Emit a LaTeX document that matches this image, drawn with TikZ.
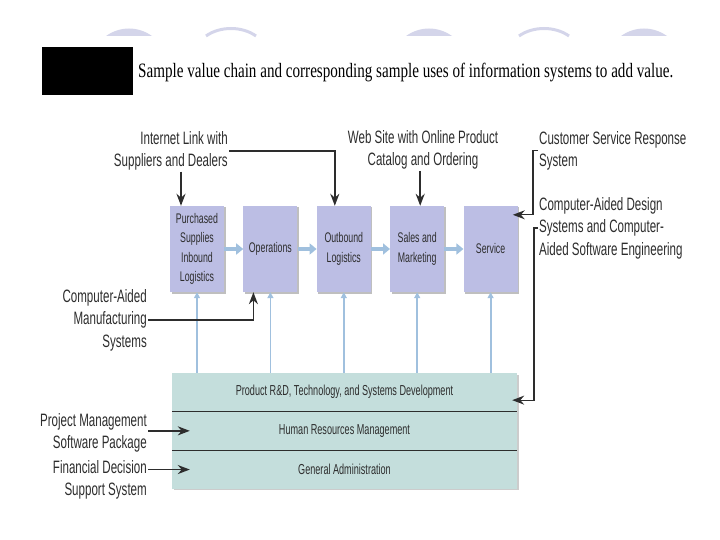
\documentclass[tikz,border=0pt]{standalone}
\usepackage{fontspec}
\usepackage{xcolor}
\usepackage{tikz}
\usetikzlibrary{arrows.meta,positioning,calc,shadows}

\newfontfamily\notefont[FakeStretch=0.645]{Liberation Sans}
\newfontfamily\boxfont[FakeStretch=0.63]{Liberation Sans}
\newfontfamily\captionfont[FakeStretch=0.74]{Liberation Serif}

\definecolor{stagefill}{RGB}{188,190,228}
\definecolor{supportfill}{RGB}{196,222,220}
\definecolor{flowblue}{RGB}{160,192,222}
\definecolor{linkgray}{RGB}{45,45,45}
\definecolor{decofill}{RGB}{212,213,234}

\begin{document}
\begin{tikzpicture}[x=1bp, y=1bp,
  stage/.style={rectangle, fill=stagefill, minimum width=54bp, minimum height=86bp, inner sep=0pt, align=center, text=linkgray, font=\boxfont\fontsize{14}{19.5}\selectfont, drop shadow={shadow xshift=1.5bp, shadow yshift=-1.5bp, fill=black, opacity=0.25}},
  support/.style={rectangle, fill=supportfill, minimum width=345bp, minimum height=38.3bp, inner sep=0pt, align=center, text=linkgray, font=\boxfont\fontsize{14.5}{16}\selectfont, drop shadow={shadow xshift=1.5bp, shadow yshift=-1.5bp, fill=black, opacity=0.2}},
  sysnote/.style={inner sep=1bp, font=\notefont\fontsize{18}{22.5}\selectfont, text=linkgray},
  flow/.style={-{Triangle[length=7bp, width=11bp]}, line width=3.5bp, flowblue},
  feed/.style={-{Triangle[length=6bp, width=6bp]}, line width=1.8bp, flowblue},
  infoarrow/.style={-{Stealth[length=12bp, width=9bp]}, line width=1.8bp, linkgray},
  node distance=19bp
]
\useasboundingbox (0,0) rectangle (720,-540);

\foreach \x in {106,406,621}
  \fill[decofill] (\x,-36) .. controls (\x+14,-26) and (\x+32,-26) .. (\x+46,-36) -- cycle;
\foreach \x in {206,519}
  \draw[decofill, line width=3bp] (\x,-36) .. controls (\x+14,-26) and (\x+36,-26) .. (\x+50,-36);

\node[fill=black, minimum width=91bp, minimum height=48bp, inner sep=0pt] (figtag) at (87.5,-71) {};
\node[anchor=base west, inner sep=0pt, font=\captionfont\fontsize{20.5}{22}\selectfont] (caption) at (138,-78) {Sample value chain and corresponding sample uses of information systems to add value.};

\node[stage] (inbound) at (197,-249) {Purchased\\Supplies\\Inbound\\Logistics};
\node[stage, right=of inbound] (operations) {Operations};
\node[stage, right=of operations] (outbound) {Outbound\\Logistics};
\node[stage, right=of outbound] (sales) {Sales and\\Marketing};
\node[stage, right=of sales] (service) {Service};

\node[support] (research) at (344.5,-392.15) {Product R\&D, Technology, and Systems Development};
\node[support, below=0pt of research] (hrm) {Human Resources Management};
\node[support, below=0pt of hrm] (admin) {General Administration};
\draw[linkgray, line width=0.8bp] (research.south west) -- (research.south east);
\draw[linkgray, line width=0.8bp] (hrm.south west) -- (hrm.south east);

\draw[flow] (inbound) -- (operations);
\draw[flow] (operations) -- (outbound);
\draw[flow] (outbound) -- (sales);
\draw[flow] (sales) -- (service);
\foreach \s in {inbound,operations,outbound,sales,service}
  \draw[feed] (research.north -| \s.south) -- (\s.south);

\node[sysnote, anchor=north east, align=right] (internet) at (229,-130) {Internet Link with\\Suppliers and Dealers};
\node[sysnote, align=center] (website) at (423,-150) {Web Site with Online Product\\Catalog and Ordering};
\node[sysnote, anchor=north west, align=left] (response) at (538,-130) {Customer Service Response\\System};
\node[sysnote, anchor=north west, align=left] (cad) at (538,-196) {Computer-Aided Design\\Systems and Computer-\\Aided Software Engineering};
\node[sysnote, anchor=east, align=right] (cam) at (148,-320) {Computer-Aided\\Manufacturing\\Systems};
\node[sysnote, anchor=east, align=right] (project) at (148,-433) {Project Management\\Software Package};
\node[sysnote, anchor=east, align=right] (finance) at (148,-480) {Financial Decision\\Support System};

\draw[infoarrow] ([xshift=-16bp]inbound.north |- internet.south) -- ([xshift=-16bp]inbound.north);
\draw[infoarrow] (internet.east) -| ([xshift=-9bp]outbound.north);
\draw[infoarrow] ([xshift=3bp]sales.north |- website.south) -- ([xshift=3bp]sales.north);
\draw[infoarrow, line width=1.2bp] (response.west) -- ++(-5bp,0) |- ([shift={(-5bp,-9bp)}]service.north east);
\draw[infoarrow, line width=1.2bp] (cad.west) -- ++(-4bp,0) |- ([shift={(-5bp,-8bp)}]research.east);
\draw[infoarrow] (cam.east) -| ([xshift=-17bp]operations.south);
\draw[infoarrow] (project.east |- hrm.west) -- ([xshift=18bp]hrm.west);
\draw[infoarrow] (finance.east |- admin.west) -- ([xshift=18bp]admin.west);

\end{tikzpicture}
\end{document}
